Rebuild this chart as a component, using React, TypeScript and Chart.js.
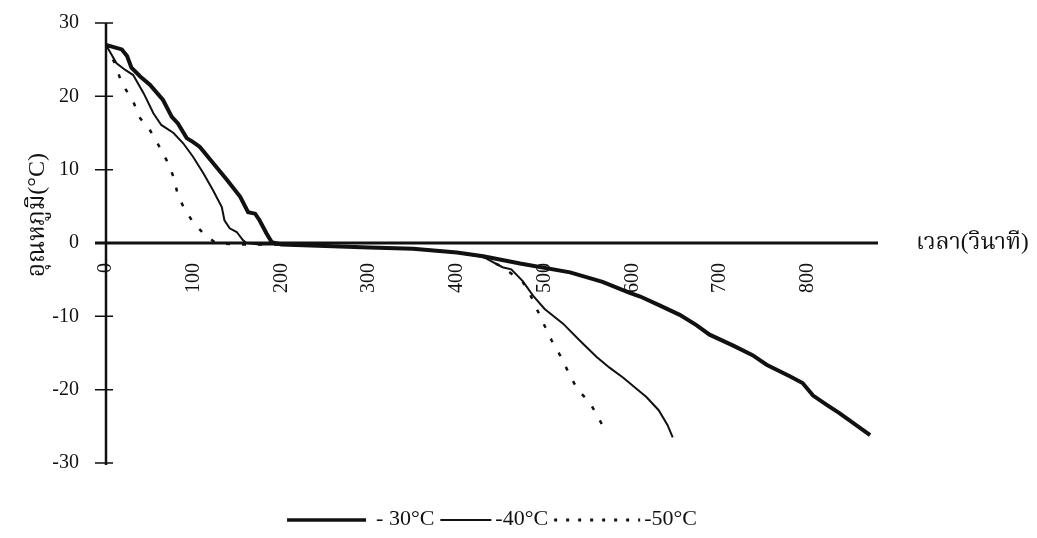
import React, { useEffect, useRef } from "react";
import { Chart, registerables } from "chart.js";

Chart.register(...registerables);

// ---- data ----
const time30 = [0, 18, 24, 29, 39, 50, 65, 75, 82, 92, 99, 107, 122, 138, 153, 162, 170, 175, 183, 189, 200, 250, 300, 350, 400, 430, 472, 529, 566, 597, 609, 631, 654, 673, 688, 715, 737, 753, 780, 794, 806, 822, 836, 871];
const temp30 = [27.0, 26.4, 25.5, 23.9, 22.7, 21.6, 19.5, 17.2, 16.3, 14.3, 13.8, 13.1, 10.9, 8.6, 6.3, 4.2, 4.0, 3.1, 1.3, 0.1, -0.2, -0.4, -0.6, -0.8, -1.3, -1.8, -2.8, -4.0, -5.3, -6.8, -7.3, -8.5, -9.8, -11.2, -12.5, -14.0, -15.3, -16.6, -18.2, -19.1, -20.8, -22.1, -23.2, -26.2];

const time40 = [0, 12, 22, 31, 43, 54, 63, 77, 88, 99, 111, 122, 132, 135, 141, 149, 156, 160, 175, 200, 250, 300, 350, 400, 430, 452, 462, 475, 487, 500, 521, 540, 559, 574, 590, 605, 616, 630, 640, 646];
const temp40 = [27.0, 24.5, 23.6, 22.9, 20.4, 17.7, 16.1, 15.0, 13.6, 11.8, 9.5, 7.2, 4.9, 3.1, 2.0, 1.5, 0.4, 0.0, -0.2, -0.2, -0.4, -0.6, -0.8, -1.3, -1.9, -3.3, -3.6, -5.2, -7.2, -9.0, -11.0, -13.3, -15.5, -17.0, -18.4, -19.9, -21.0, -22.8, -24.8, -26.5];

const time50 = [0, 10, 18, 31, 39, 50, 62, 69, 77, 82, 90, 99, 111, 125, 150, 175, 200, 250, 300, 350, 400, 430, 452, 475, 483, 498, 508, 519, 529, 538, 550, 559, 569];
const temp50 = [27.0, 24.5, 21.8, 19.3, 17.0, 15.4, 12.9, 11.3, 9.0, 6.5, 4.5, 2.9, 1.3, 0.0, -0.2, -0.2, -0.2, -0.4, -0.6, -0.8, -1.3, -1.9, -3.3, -5.3, -6.9, -10.8, -13.3, -15.6, -18.1, -20.1, -21.5, -23.3, -25.6];

const seriesLabels = ["- 30°C", "-40°C", "-50°C"];
const xTitle = "เวลา(วินาที)";
const yTitle = "อุณหภูมิ(°C)";
const xMin = 0;
const xMax = 880;
const xStep = 100;
const yMin = -30;
const yMax = 30;
const yStep = 10;

const INK = "#111111";
const SERIF = "'Liberation Serif', 'Times New Roman', serif";
const THAI = "'Liberation Serif', 'Noto Serif Thai', 'Noto Sans Thai', 'Loma', 'Garuda', serif";

const toPoints = (xs: number[], ys: number[]) => xs.map((x, i) => ({ x, y: ys[i] }));

const legendSampleWidths = [79, 51, 86];
const legendSampleDash = [[], [], [3, 9]];
const legendSampleLine = [3.5, 2, 3];
const legendSampleGap = [10, 4, 4];

const decorPlugin = {
  id: "decor",
  afterDraw(chart: any) {
    const { ctx, chartArea, scales } = chart;
    const xs = scales.x;
    const ys = scales.y;
    const x0 = xs.getPixelForValue(0);
    const y0 = ys.getPixelForValue(0);
    ctx.save();
    ctx.strokeStyle = INK;
    ctx.fillStyle = INK;
    // y axis
    ctx.lineWidth = 2.5;
    ctx.beginPath();
    ctx.moveTo(x0, ys.getPixelForValue(yMax));
    ctx.lineTo(x0, ys.getPixelForValue(yMin) + 2);
    ctx.stroke();
    // x axis
    ctx.lineWidth = 3;
    ctx.beginPath();
    ctx.moveTo(x0 - 11, y0);
    ctx.lineTo(chartArea.right, y0);
    ctx.stroke();
    // y tick marks crossing the axis
    ctx.lineWidth = 1.5;
    ctx.beginPath();
    ys.ticks.forEach((t: any) => {
      const py = ys.getPixelForValue(t.value);
      ctx.moveTo(x0 - 11, py);
      ctx.lineTo(x0 + 7, py);
    });
    ctx.stroke();
    // x title
    ctx.font = `23px ${THAI}`;
    ctx.textAlign = "left";
    ctx.textBaseline = "middle";
    ctx.fillText(xTitle, chartArea.right + 38, y0);
    // y title
    ctx.save();
    ctx.font = `24px ${THAI}`;
    ctx.translate(30, 207);
    ctx.rotate(-Math.PI / 2);
    ctx.textAlign = "center";
    ctx.fillText(yTitle, 0, 0);
    ctx.restore();
    // legend
    ctx.font = `22px ${SERIF}`;
    const ly = 511;
    const gapItem = 6;
    const items = chart.data.datasets.map((ds: any, i: number) => ({
      w: legendSampleWidths[i],
      g: legendSampleGap[i],
      tw: ctx.measureText(ds.label).width,
      label: ds.label,
      i,
    }));
    const total = items.reduce((s: number, it: any) => s + it.w + it.g + it.tw, 0) + gapItem * (items.length - 1);
    let cx = (chartArea.left + chartArea.right) / 2 - total / 2;
    items.forEach((it: any) => {
      ctx.save();
      ctx.lineWidth = legendSampleLine[it.i];
      ctx.setLineDash(legendSampleDash[it.i]);
      ctx.beginPath();
      ctx.moveTo(cx, ly + 1);
      ctx.lineTo(cx + it.w, ly + 1);
      ctx.stroke();
      ctx.restore();
      cx += it.w + it.g;
      ctx.textAlign = "left";
      ctx.textBaseline = "middle";
      ctx.fillText(it.label, cx, ly);
      cx += it.tw + gapItem;
    });
    ctx.restore();
  },
};

export default function App() {
  const ref = useRef<HTMLCanvasElement | null>(null);
  useEffect(() => {
    if (!ref.current) return;
    const chart = new Chart(ref.current, {
      type: "line",
      data: {
        datasets: [
          {
            label: seriesLabels[0],
            data: toPoints(time30, temp30),
            borderColor: INK,
            borderWidth: 4,
            pointRadius: 0,
            tension: 0,
            fill: false,
          },
          {
            label: seriesLabels[1],
            data: toPoints(time40, temp40),
            borderColor: INK,
            borderWidth: 2,
            pointRadius: 0,
            tension: 0,
            fill: false,
          },
          {
            label: seriesLabels[2],
            data: toPoints(time50, temp50),
            borderColor: INK,
            borderWidth: 2.5,
            borderDash: [4, 12],
            pointRadius: 0,
            tension: 0,
            fill: false,
          },
        ],
      },
      options: {
        animation: false,
        responsive: true,
        maintainAspectRatio: false,
        layout: { padding: { left: 0, right: 151, top: 15, bottom: 67 } },
        plugins: {
          legend: { display: false },
          tooltip: { enabled: false },
          title: { display: false },
        },
        scales: {
          x: {
            type: "linear",
            position: { y: 0 } as any,
            min: xMin,
            max: xMax,
            grid: { display: false, drawTicks: false },
            border: { display: false },
            ticks: {
              stepSize: xStep,
              includeBounds: false,
              autoSkip: false,
              minRotation: 90,
              maxRotation: 90,
              padding: 20,
              color: INK,
              font: { family: SERIF, size: 20 },
            },
            afterFit: (s: any) => {
              s.height = 0;
              s.paddingLeft = 0;
              s.paddingRight = 0;
            },
          },
          y: {
            type: "linear",
            min: yMin,
            max: yMax,
            grid: { display: false, drawTicks: false },
            border: { display: false },
            ticks: {
              stepSize: yStep,
              padding: 27,
              color: INK,
              font: { family: SERIF, size: 20 },
            },
            afterFit: (s: any) => {
              s.width = 98;
              s.paddingTop = 0;
              s.paddingBottom = 0;
            },
          },
        },
      },
      plugins: [decorPlugin],
    });
    return () => chart.destroy();
  }, []);
  return (
    <div style={{ width: 1021, height: 522, position: "relative" }}>
      <canvas ref={ref} />
    </div>
  );
}
